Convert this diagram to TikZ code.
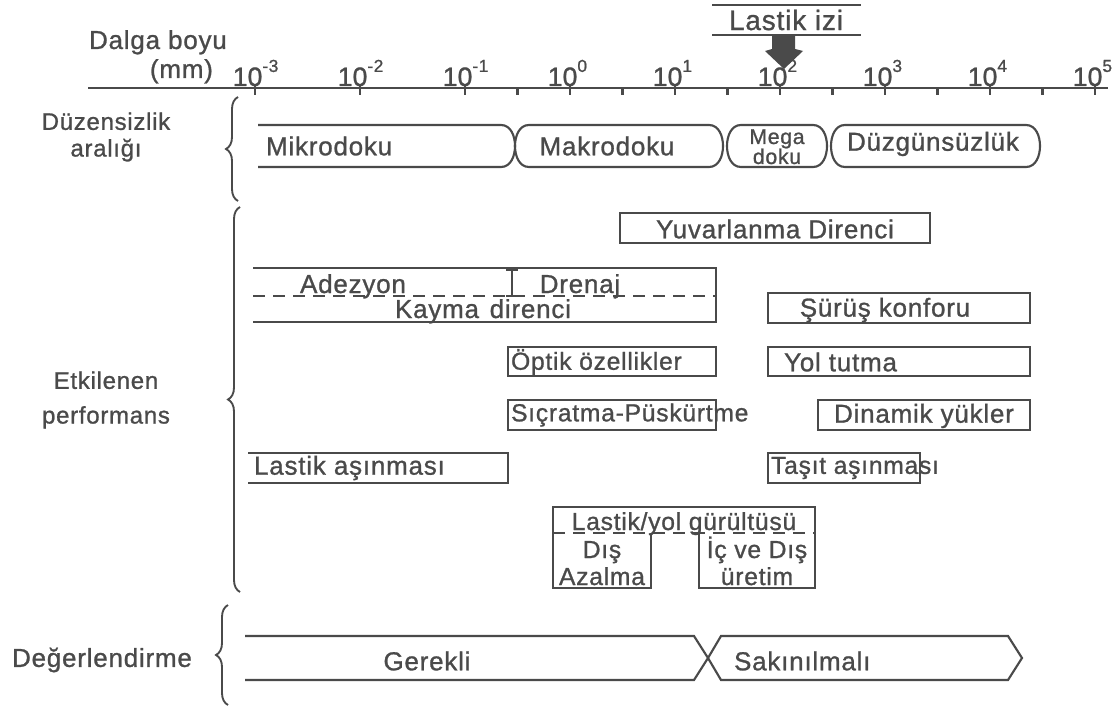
\documentclass[tikz,border=0pt]{standalone}
\usepackage{fontspec}
\setmainfont{Liberation Sans}[LetterSpace=3,FakeBold=1.0]
\usetikzlibrary{decorations.pathreplacing}
\definecolor{ink}{HTML}{4A4A4A}
\newcommand\fsz[1]{\fontsize{#1}{#1}\selectfont}
\begin{document}
\begin{tikzpicture}[x=0.75pt,y=-0.75pt, line width=1.6pt, draw=ink,
  lbl/.style={inner sep=0, text=ink, font=\fsz{19.5}},
  small/.style={lbl, font=\fsz{18.5}},
  side/.style={lbl, font=\fsz{18}},
  brc/.style={draw=ink, decorate, decoration={brace, amplitude=9pt}, line width=1.4pt},
  dsh/.style={dash pattern=on 9pt off 6pt}]
\useasboundingbox (0,0) rectangle (1120,709);
% ---------- axis ----------
\node[lbl, anchor=base west] (dalga) at (88,49) {Dalga boyu};
\node[lbl, anchor=base east] (mm) at (214,78) {(mm)};
\draw (88,88) -- (1108,88);
\foreach \e [count=\i from 0] in {-3,-2,-1,0,1,2,3,4,5}{
  \node[lbl, font=\fsz{20}, anchor=base] (t\i) at ({255+105*\i},86) {\llap{1}0\rlap{\raisebox{1.0ex}{\fsz{13}\e}}};
  \draw ({255+105*\i},86) -- ++(0,9);
}
\foreach \i in {2.5,3.5,...,7.5}{ \draw ({255+105*\i},88) -- ++(0,7); }
% Lastik izi
\draw (712,5) -- (861,5);
\draw (712,35) -- (861,35);
\node[lbl, font=\fsz{21}] (izi) at (786,20) {Lastik izi};
\fill[ink] (772,36) -- (795,36) -- (795,49) -- (803,51) -- (784,69) -- (765,51) -- (772,49) -- cycle;
% ---------- row 1 ----------
\node[side, align=center] (duz) at (106,137) {Düzensizlik\\[2pt]aralığı};
\draw[brc] (238,201) -- (238,97);
\draw (258,125) -- (501,125) to[out=0,in=90] (515,146) to[out=-90,in=0] (501,167) -- (258,167);
\draw (515,146) to[out=90,in=180] (529,125) -- (709,125) to[out=0,in=90] (723,146) to[out=-90,in=0] (709,167) -- (529,167) to[out=180,in=-90] cycle;
\draw (727,146) to[out=90,in=180] (741,125) -- (813,125) to[out=0,in=90] (827,146) to[out=-90,in=0] (813,167) -- (741,167) to[out=180,in=-90] cycle;
\draw (831,146) to[out=90,in=180] (845,125) -- (1026,125) to[out=0,in=90] (1040,146) to[out=-90,in=0] (1026,167) -- (845,167) to[out=180,in=-90] cycle;
\node[lbl, anchor=west] (mikro) at (265,146) {Mikrodoku};
\node[lbl] (makro) at (607,146) {Makrodoku};
\node[lbl, font=\fsz{16}, anchor=base] (mega) at (777,144) {Mega};
\node[lbl, font=\fsz{16}, anchor=base] (doku) at (777,164) {doku};
\node[lbl] (duzg) at (933,144) {Düzgünsüzlük};
% ---------- row 2 ----------
\node[side, align=center] (etk) at (106,400) {Etkilenen\\[8pt]performans};
\draw[brc] (240,592) -- (240,207);
\draw (620,213) rectangle (930,243);
\node[lbl] (yuv) at (775,229) {Yuvarlanma Direnci};
% adezyon / drenaj / kayma
\draw (253,268) -- (716,268) -- (716,322) -- (253,322);
\draw[dsh] (253,296) -- (716,296);
\draw (512,268) -- (512,296);
\draw (506,270) -- (518,270);
\draw (506,296) -- (518,296);
\node[lbl, anchor=base] (adez) at (353,293) {Adezyon};
\node[lbl, anchor=base] (dren) at (580,293) {Drenaj};
\node[lbl, anchor=base] (kay) at (483,318) {Kayma\hspace{8pt}direnci};
\draw (768,293) rectangle (1030,323);
\node[lbl] (surus) at (885,310) {Şürüş konforu};
\draw (508,347) rectangle (716,376);
\node[small, anchor=west] (opt) at (510,362) {Öptik özellikler};
\draw (768,347) rectangle (1030,376);
\node[lbl, anchor=west] (yol) at (783,362) {Yol tutma};
\draw (508,400) rectangle (716,430);
\node[small, anchor=west] (sic) at (510,415) {Sıçratma-Püskürtme};
\draw (818,400) rectangle (1030,430);
\node[lbl] (din) at (924,416) {Dinamik yükler};
\draw (248,453) -- (508,453) -- (508,483) -- (248,483);
\node[lbl, anchor=west] (lasa) at (253,468) {Lastik aşınması};
\draw (768,453) rectangle (920,483);
\node[small, anchor=west] (tas) at (770,468) {Taşıt aşınması};
% gurultu
\draw (651,533) -- (651,588) -- (553,588) -- (553,507) -- (815,507) -- (815,588) -- (699,588) -- (699,533);
\draw[dsh] (553,533) -- (815,533);
\node[small, anchor=base] (gur) at (684,530) {Lastik/yol gürültüsü};
\node[small, anchor=base] (dis) at (602,558) {Dış};
\node[small, anchor=base] (aza) at (602,585) {Azalma};
\node[small, anchor=base] (ic) at (757,558) {İç ve Dış};
\node[small, anchor=base] (ure) at (757,585) {üretim};
% ---------- row 3 ----------
\node[lbl] (deg) at (102,660) {Değerlendirme};
\draw[brc] (228,705) -- (228,605);
\draw (245,636) -- (694,636) -- (708,658) -- (694,680) -- (245,680);
\draw (708,658) -- (721,636) -- (1008,636) -- (1022,658) -- (1008,680) -- (721,680) -- cycle;
\node[lbl] (ger) at (427,661) {Gerekli};
\node[lbl, anchor=west] (sak) at (733,661) {Sakınılmalı};
\end{tikzpicture}
\end{document}
